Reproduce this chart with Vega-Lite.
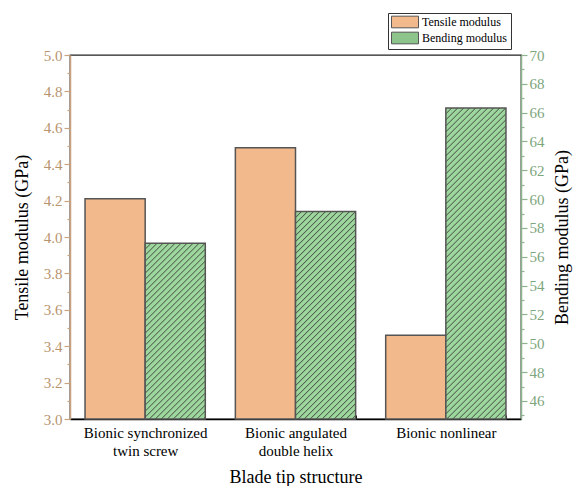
{
  "$schema": "https://vega.github.io/schema/vega-lite/v6.json",
  "autosize": "none",
  "width": 451,
  "height": 364,
  "padding": {"left": 70, "top": 55, "right": 53, "bottom": 67},
  "background": "white",
  "config": {
    "view": {"stroke": "#222222", "strokeWidth": 1.3},
    "font": "Liberation Serif"
  },
  "data": {
    "values": [
      {"structure": "Bionic synchronized twin screw", "series": "Tensile modulus", "value": 4.21},
      {"structure": "Bionic synchronized twin screw", "series": "Bending modulus", "value": 56.95},
      {"structure": "Bionic angulated double helix", "series": "Tensile modulus", "value": 4.49},
      {"structure": "Bionic angulated double helix", "series": "Bending modulus", "value": 59.14},
      {"structure": "Bionic nonlinear", "series": "Tensile modulus", "value": 3.46},
      {"structure": "Bionic nonlinear", "series": "Bending modulus", "value": 66.33}
    ]
  },
  "encoding": {
    "x": {
      "field": "structure",
      "type": "nominal",
      "sort": null,
      "scale": {"paddingInner": 0.2, "paddingOuter": 0.1},
      "axis": {
        "title": "Blade tip structure",
        "titleFont": "Liberation Serif",
        "titleFontSize": 18,
        "titleFontWeight": "normal",
        "titleColor": "#000000",
        "titlePadding": 10,
        "labelAngle": 0,
        "labelFont": "Liberation Serif",
        "labelFontSize": 15,
        "labelColor": "#000000",
        "labelLineHeight": 18,
        "labelPadding": 10,
        "labelExpr": "datum.label == 'Bionic synchronized twin screw' ? ['Bionic synchronized', 'twin screw'] : datum.label == 'Bionic angulated double helix' ? ['Bionic angulated', 'double helix'] : datum.label",
        "domainColor": "#000000",
        "domainWidth": 1.3,
        "tickBand": "extent",
        "tickSize": -4,
        "tickColor": "#000000",
        "grid": false
      }
    },
    "xOffset": {
      "field": "series",
      "type": "nominal",
      "scale": {"domain": ["Tensile modulus", "Bending modulus"], "paddingInner": 0, "paddingOuter": 0}
    },
    "color": {
      "field": "series",
      "type": "nominal",
      "scale": {"domain": ["Tensile modulus", "Bending modulus"], "range": ["#F2BA8C", "#8CC48C"]},
      "legend": {
        "title": null,
        "orient": "none",
        "legendX": 318,
        "legendY": -42,
        "strokeColor": "#333333",
        "fillColor": "white",
        "padding": 3,
        "symbolType": "M-1,-1.06H3.91V1.06H-1Z",
        "symbolSize": 121,
        "symbolStrokeColor": "#555555",
        "symbolStrokeWidth": 1,
        "symbolOpacity": 1,
        "labelFont": "Liberation Serif",
        "labelFontSize": 12,
        "labelColor": "#000000",
        "labelOffset": 19,
        "rowPadding": 0
      }
    }
  },
  "layer": [
    {
      "transform": [{"filter": "datum.series === 'Tensile modulus'"}],
      "mark": {"type": "bar", "stroke": "#555555", "strokeWidth": 1.5, "opacity": 1},
      "encoding": {
        "y": {
          "field": "value",
          "type": "quantitative",
          "scale": {"domain": [3, 5], "zero": false, "nice": false},
          "axis": {
            "orient": "left",
            "title": "Tensile modulus (GPa)",
            "titleFont": "Liberation Serif",
            "titleFontSize": 18,
            "titleFontWeight": "normal",
            "titleColor": "#000000",
            "titlePadding": 12,
            "values": [3.0, 3.1, 3.2, 3.3, 3.4, 3.5, 3.6, 3.7, 3.8, 3.9, 4.0, 4.1, 4.2, 4.3, 4.4, 4.5, 4.6, 4.7, 4.8, 4.9, 5.0],
            "labelExpr": "round(datum.value * 10) % 2 == 0 ? format(datum.value, '.1f') : ''",
            "tickSize": {"condition": {"test": "round(datum.value * 10) % 2 == 1", "value": 3}, "value": 6},
            "labelFont": "Liberation Serif",
            "labelFontSize": 15,
            "labelColor": "#B8946E",
            "labelPadding": 2,
            "domainColor": "#C9A37F",
            "domainWidth": 1.5,
            "tickColor": "#C9A37F",
            "tickWidth": 1.2,
            "grid": false
          }
        },
        "y2": {"datum": 3}
      }
    },
    {
      "transform": [{"filter": "datum.series === 'Bending modulus'"}],
      "mark": {"type": "bar", "stroke": "#555555", "strokeWidth": 1.5, "opacity": 1},
      "encoding": {
        "y": {
          "field": "value",
          "type": "quantitative",
          "scale": {"domain": [44.75, 70], "zero": false, "nice": false},
          "axis": {
            "orient": "right",
            "title": "Bending modulus (GPa)",
            "titleFont": "Liberation Serif",
            "titleFontSize": 18,
            "titleFontWeight": "normal",
            "titleColor": "#000000",
            "titleAngle": 270,
            "titleBaseline": "top",
            "titlePadding": 9,
            "values": [45, 46, 47, 48, 49, 50, 51, 52, 53, 54, 55, 56, 57, 58, 59, 60, 61, 62, 63, 64, 65, 66, 67, 68, 69, 70],
            "labelExpr": "datum.value % 2 == 0 ? format(datum.value, 'd') : ''",
            "tickSize": {"condition": {"test": "datum.value % 2 == 1", "value": 3}, "value": 6},
            "labelFont": "Liberation Serif",
            "labelFontSize": 15,
            "labelColor": "#7DA67D",
            "labelPadding": 2,
            "domainColor": "#8FB38F",
            "domainWidth": 1.5,
            "tickColor": "#8FB38F",
            "tickWidth": 1.2,
            "grid": false
          }
        },
        "y2": {"datum": 44.75},
        "fill": {
          "condition": [
            {
              "test": "datum.structure === 'Bionic synchronized twin screw'",
              "value": {
                "gradient": "linear", "x1": 0, "y1": 0, "x2": 0.6525, "y2": 1.9088,
                "stops": [
                  {"offset":0,"color":"#4e5e4e"},{"offset":0.0032,"color":"#9dd79d"},{"offset":0.0128,"color":"#9dd79d"},
                  {"offset":0.016,"color":"#4e5e4e"},{"offset":0.0192,"color":"#9dd79d"},{"offset":0.0288,"color":"#9dd79d"},
                  {"offset":0.032,"color":"#4e5e4e"},{"offset":0.0352,"color":"#9dd79d"},{"offset":0.0448,"color":"#9dd79d"},
                  {"offset":0.048,"color":"#4e5e4e"},{"offset":0.0512,"color":"#9dd79d"},{"offset":0.0608,"color":"#9dd79d"},
                  {"offset":0.064,"color":"#4e5e4e"},{"offset":0.0672,"color":"#9dd79d"},{"offset":0.0768,"color":"#9dd79d"},
                  {"offset":0.08,"color":"#4e5e4e"},{"offset":0.0832,"color":"#9dd79d"},{"offset":0.0928,"color":"#9dd79d"},
                  {"offset":0.096,"color":"#4e5e4e"},{"offset":0.0992,"color":"#9dd79d"},{"offset":0.1088,"color":"#9dd79d"},
                  {"offset":0.112,"color":"#4e5e4e"},{"offset":0.1152,"color":"#9dd79d"},{"offset":0.1248,"color":"#9dd79d"},
                  {"offset":0.128,"color":"#4e5e4e"},{"offset":0.1312,"color":"#9dd79d"},{"offset":0.1408,"color":"#9dd79d"},
                  {"offset":0.144,"color":"#4e5e4e"},{"offset":0.1472,"color":"#9dd79d"},{"offset":0.1568,"color":"#9dd79d"},
                  {"offset":0.16,"color":"#4e5e4e"},{"offset":0.1632,"color":"#9dd79d"},{"offset":0.1728,"color":"#9dd79d"},
                  {"offset":0.176,"color":"#4e5e4e"},{"offset":0.1792,"color":"#9dd79d"},{"offset":0.1888,"color":"#9dd79d"},
                  {"offset":0.192,"color":"#4e5e4e"},{"offset":0.1952,"color":"#9dd79d"},{"offset":0.2048,"color":"#9dd79d"},
                  {"offset":0.208,"color":"#4e5e4e"},{"offset":0.2112,"color":"#9dd79d"},{"offset":0.2208,"color":"#9dd79d"},
                  {"offset":0.224,"color":"#4e5e4e"},{"offset":0.2272,"color":"#9dd79d"},{"offset":0.2368,"color":"#9dd79d"},
                  {"offset":0.24,"color":"#4e5e4e"},{"offset":0.2432,"color":"#9dd79d"},{"offset":0.2528,"color":"#9dd79d"},
                  {"offset":0.256,"color":"#4e5e4e"},{"offset":0.2592,"color":"#9dd79d"},{"offset":0.2688,"color":"#9dd79d"},
                  {"offset":0.272,"color":"#4e5e4e"},{"offset":0.2752,"color":"#9dd79d"},{"offset":0.2848,"color":"#9dd79d"},
                  {"offset":0.288,"color":"#4e5e4e"},{"offset":0.2912,"color":"#9dd79d"},{"offset":0.3008,"color":"#9dd79d"},
                  {"offset":0.304,"color":"#4e5e4e"},{"offset":0.3072,"color":"#9dd79d"},{"offset":0.3168,"color":"#9dd79d"},
                  {"offset":0.32,"color":"#4e5e4e"},{"offset":0.3232,"color":"#9dd79d"},{"offset":0.3328,"color":"#9dd79d"},
                  {"offset":0.336,"color":"#4e5e4e"},{"offset":0.3392,"color":"#9dd79d"},{"offset":0.3488,"color":"#9dd79d"},
                  {"offset":0.352,"color":"#4e5e4e"},{"offset":0.3552,"color":"#9dd79d"},{"offset":0.3648,"color":"#9dd79d"},
                  {"offset":0.368,"color":"#4e5e4e"},{"offset":0.3712,"color":"#9dd79d"},{"offset":0.3808,"color":"#9dd79d"},
                  {"offset":0.384,"color":"#4e5e4e"},{"offset":0.3872,"color":"#9dd79d"},{"offset":0.3968,"color":"#9dd79d"},
                  {"offset":0.4,"color":"#4e5e4e"},{"offset":0.4032,"color":"#9dd79d"},{"offset":0.4128,"color":"#9dd79d"},
                  {"offset":0.416,"color":"#4e5e4e"},{"offset":0.4192,"color":"#9dd79d"},{"offset":0.4288,"color":"#9dd79d"},
                  {"offset":0.432,"color":"#4e5e4e"},{"offset":0.4352,"color":"#9dd79d"},{"offset":0.4448,"color":"#9dd79d"},
                  {"offset":0.448,"color":"#4e5e4e"},{"offset":0.4512,"color":"#9dd79d"},{"offset":0.4608,"color":"#9dd79d"},
                  {"offset":0.464,"color":"#4e5e4e"},{"offset":0.4672,"color":"#9dd79d"},{"offset":0.4768,"color":"#9dd79d"},
                  {"offset":0.48,"color":"#4e5e4e"},{"offset":0.4832,"color":"#9dd79d"},{"offset":0.4928,"color":"#9dd79d"},
                  {"offset":0.496,"color":"#4e5e4e"},{"offset":0.4992,"color":"#9dd79d"},{"offset":0.5088,"color":"#9dd79d"},
                  {"offset":0.512,"color":"#4e5e4e"},{"offset":0.5152,"color":"#9dd79d"},{"offset":0.5248,"color":"#9dd79d"},
                  {"offset":0.528,"color":"#4e5e4e"},{"offset":0.5312,"color":"#9dd79d"},{"offset":0.5408,"color":"#9dd79d"},
                  {"offset":0.544,"color":"#4e5e4e"},{"offset":0.5472,"color":"#9dd79d"},{"offset":0.5568,"color":"#9dd79d"},
                  {"offset":0.56,"color":"#4e5e4e"},{"offset":0.5632,"color":"#9dd79d"},{"offset":0.5728,"color":"#9dd79d"},
                  {"offset":0.576,"color":"#4e5e4e"},{"offset":0.5792,"color":"#9dd79d"},{"offset":0.5888,"color":"#9dd79d"},
                  {"offset":0.592,"color":"#4e5e4e"},{"offset":0.5952,"color":"#9dd79d"},{"offset":0.6048,"color":"#9dd79d"},
                  {"offset":0.608,"color":"#4e5e4e"},{"offset":0.6112,"color":"#9dd79d"},{"offset":0.6208,"color":"#9dd79d"},
                  {"offset":0.624,"color":"#4e5e4e"},{"offset":0.6272,"color":"#9dd79d"},{"offset":0.6368,"color":"#9dd79d"},
                  {"offset":0.64,"color":"#4e5e4e"}
                ]
              }
            },
            {
              "test": "datum.structure === 'Bionic angulated double helix'",
              "value": {
                "gradient": "linear", "x1": 0, "y1": 0, "x2": 0.4836, "y2": 1.6679,
                "stops": [
                  {"offset":0,"color":"#4e5e4e"},{"offset":0.0032,"color":"#9dd79d"},{"offset":0.0128,"color":"#9dd79d"},
                  {"offset":0.016,"color":"#4e5e4e"},{"offset":0.0192,"color":"#9dd79d"},{"offset":0.0288,"color":"#9dd79d"},
                  {"offset":0.032,"color":"#4e5e4e"},{"offset":0.0352,"color":"#9dd79d"},{"offset":0.0448,"color":"#9dd79d"},
                  {"offset":0.048,"color":"#4e5e4e"},{"offset":0.0512,"color":"#9dd79d"},{"offset":0.0608,"color":"#9dd79d"},
                  {"offset":0.064,"color":"#4e5e4e"},{"offset":0.0672,"color":"#9dd79d"},{"offset":0.0768,"color":"#9dd79d"},
                  {"offset":0.08,"color":"#4e5e4e"},{"offset":0.0832,"color":"#9dd79d"},{"offset":0.0928,"color":"#9dd79d"},
                  {"offset":0.096,"color":"#4e5e4e"},{"offset":0.0992,"color":"#9dd79d"},{"offset":0.1088,"color":"#9dd79d"},
                  {"offset":0.112,"color":"#4e5e4e"},{"offset":0.1152,"color":"#9dd79d"},{"offset":0.1248,"color":"#9dd79d"},
                  {"offset":0.128,"color":"#4e5e4e"},{"offset":0.1312,"color":"#9dd79d"},{"offset":0.1408,"color":"#9dd79d"},
                  {"offset":0.144,"color":"#4e5e4e"},{"offset":0.1472,"color":"#9dd79d"},{"offset":0.1568,"color":"#9dd79d"},
                  {"offset":0.16,"color":"#4e5e4e"},{"offset":0.1632,"color":"#9dd79d"},{"offset":0.1728,"color":"#9dd79d"},
                  {"offset":0.176,"color":"#4e5e4e"},{"offset":0.1792,"color":"#9dd79d"},{"offset":0.1888,"color":"#9dd79d"},
                  {"offset":0.192,"color":"#4e5e4e"},{"offset":0.1952,"color":"#9dd79d"},{"offset":0.2048,"color":"#9dd79d"},
                  {"offset":0.208,"color":"#4e5e4e"},{"offset":0.2112,"color":"#9dd79d"},{"offset":0.2208,"color":"#9dd79d"},
                  {"offset":0.224,"color":"#4e5e4e"},{"offset":0.2272,"color":"#9dd79d"},{"offset":0.2368,"color":"#9dd79d"},
                  {"offset":0.24,"color":"#4e5e4e"},{"offset":0.2432,"color":"#9dd79d"},{"offset":0.2528,"color":"#9dd79d"},
                  {"offset":0.256,"color":"#4e5e4e"},{"offset":0.2592,"color":"#9dd79d"},{"offset":0.2688,"color":"#9dd79d"},
                  {"offset":0.272,"color":"#4e5e4e"},{"offset":0.2752,"color":"#9dd79d"},{"offset":0.2848,"color":"#9dd79d"},
                  {"offset":0.288,"color":"#4e5e4e"},{"offset":0.2912,"color":"#9dd79d"},{"offset":0.3008,"color":"#9dd79d"},
                  {"offset":0.304,"color":"#4e5e4e"},{"offset":0.3072,"color":"#9dd79d"},{"offset":0.3168,"color":"#9dd79d"},
                  {"offset":0.32,"color":"#4e5e4e"},{"offset":0.3232,"color":"#9dd79d"},{"offset":0.3328,"color":"#9dd79d"},
                  {"offset":0.336,"color":"#4e5e4e"},{"offset":0.3392,"color":"#9dd79d"},{"offset":0.3488,"color":"#9dd79d"},
                  {"offset":0.352,"color":"#4e5e4e"},{"offset":0.3552,"color":"#9dd79d"},{"offset":0.3648,"color":"#9dd79d"},
                  {"offset":0.368,"color":"#4e5e4e"},{"offset":0.3712,"color":"#9dd79d"},{"offset":0.3808,"color":"#9dd79d"},
                  {"offset":0.384,"color":"#4e5e4e"},{"offset":0.3872,"color":"#9dd79d"},{"offset":0.3968,"color":"#9dd79d"},
                  {"offset":0.4,"color":"#4e5e4e"},{"offset":0.4032,"color":"#9dd79d"},{"offset":0.4128,"color":"#9dd79d"},
                  {"offset":0.416,"color":"#4e5e4e"},{"offset":0.4192,"color":"#9dd79d"},{"offset":0.4288,"color":"#9dd79d"},
                  {"offset":0.432,"color":"#4e5e4e"},{"offset":0.4352,"color":"#9dd79d"},{"offset":0.4448,"color":"#9dd79d"},
                  {"offset":0.448,"color":"#4e5e4e"},{"offset":0.4512,"color":"#9dd79d"},{"offset":0.4608,"color":"#9dd79d"},
                  {"offset":0.464,"color":"#4e5e4e"},{"offset":0.4672,"color":"#9dd79d"},{"offset":0.4768,"color":"#9dd79d"},
                  {"offset":0.48,"color":"#4e5e4e"},{"offset":0.4832,"color":"#9dd79d"},{"offset":0.4928,"color":"#9dd79d"},
                  {"offset":0.496,"color":"#4e5e4e"},{"offset":0.4992,"color":"#9dd79d"},{"offset":0.5088,"color":"#9dd79d"},
                  {"offset":0.512,"color":"#4e5e4e"},{"offset":0.5152,"color":"#9dd79d"},{"offset":0.5248,"color":"#9dd79d"},
                  {"offset":0.528,"color":"#4e5e4e"},{"offset":0.5312,"color":"#9dd79d"},{"offset":0.5408,"color":"#9dd79d"},
                  {"offset":0.544,"color":"#4e5e4e"},{"offset":0.5472,"color":"#9dd79d"},{"offset":0.5568,"color":"#9dd79d"},
                  {"offset":0.56,"color":"#4e5e4e"},{"offset":0.5632,"color":"#9dd79d"},{"offset":0.5728,"color":"#9dd79d"},
                  {"offset":0.576,"color":"#4e5e4e"},{"offset":0.5792,"color":"#9dd79d"},{"offset":0.5888,"color":"#9dd79d"},
                  {"offset":0.592,"color":"#4e5e4e"},{"offset":0.5952,"color":"#9dd79d"},{"offset":0.6048,"color":"#9dd79d"},
                  {"offset":0.608,"color":"#4e5e4e"},{"offset":0.6112,"color":"#9dd79d"},{"offset":0.6208,"color":"#9dd79d"},
                  {"offset":0.624,"color":"#4e5e4e"},{"offset":0.6272,"color":"#9dd79d"},{"offset":0.6368,"color":"#9dd79d"},
                  {"offset":0.64,"color":"#4e5e4e"},{"offset":0.6432,"color":"#9dd79d"},{"offset":0.6528,"color":"#9dd79d"},
                  {"offset":0.656,"color":"#4e5e4e"},{"offset":0.6592,"color":"#9dd79d"},{"offset":0.6688,"color":"#9dd79d"},
                  {"offset":0.672,"color":"#4e5e4e"},{"offset":0.6752,"color":"#9dd79d"},{"offset":0.6848,"color":"#9dd79d"},
                  {"offset":0.688,"color":"#4e5e4e"},{"offset":0.6912,"color":"#9dd79d"},{"offset":0.7008,"color":"#9dd79d"},
                  {"offset":0.704,"color":"#4e5e4e"},{"offset":0.7072,"color":"#9dd79d"},{"offset":0.7168,"color":"#9dd79d"},
                  {"offset":0.72,"color":"#4e5e4e"}
                ]
              }
            }
          ],
          "value": {
            "gradient": "linear", "x1": 0, "y1": 0, "x2": 0.2246, "y2": 1.162,
            "stops": [
              {"offset":0,"color":"#4e5e4e"},{"offset":0.0032,"color":"#9dd79d"},{"offset":0.0128,"color":"#9dd79d"},
              {"offset":0.016,"color":"#4e5e4e"},{"offset":0.0192,"color":"#9dd79d"},{"offset":0.0288,"color":"#9dd79d"},
              {"offset":0.032,"color":"#4e5e4e"},{"offset":0.0352,"color":"#9dd79d"},{"offset":0.0448,"color":"#9dd79d"},
              {"offset":0.048,"color":"#4e5e4e"},{"offset":0.0512,"color":"#9dd79d"},{"offset":0.0608,"color":"#9dd79d"},
              {"offset":0.064,"color":"#4e5e4e"},{"offset":0.0672,"color":"#9dd79d"},{"offset":0.0768,"color":"#9dd79d"},
              {"offset":0.08,"color":"#4e5e4e"},{"offset":0.0832,"color":"#9dd79d"},{"offset":0.0928,"color":"#9dd79d"},
              {"offset":0.096,"color":"#4e5e4e"},{"offset":0.0992,"color":"#9dd79d"},{"offset":0.1088,"color":"#9dd79d"},
              {"offset":0.112,"color":"#4e5e4e"},{"offset":0.1152,"color":"#9dd79d"},{"offset":0.1248,"color":"#9dd79d"},
              {"offset":0.128,"color":"#4e5e4e"},{"offset":0.1312,"color":"#9dd79d"},{"offset":0.1408,"color":"#9dd79d"},
              {"offset":0.144,"color":"#4e5e4e"},{"offset":0.1472,"color":"#9dd79d"},{"offset":0.1568,"color":"#9dd79d"},
              {"offset":0.16,"color":"#4e5e4e"},{"offset":0.1632,"color":"#9dd79d"},{"offset":0.1728,"color":"#9dd79d"},
              {"offset":0.176,"color":"#4e5e4e"},{"offset":0.1792,"color":"#9dd79d"},{"offset":0.1888,"color":"#9dd79d"},
              {"offset":0.192,"color":"#4e5e4e"},{"offset":0.1952,"color":"#9dd79d"},{"offset":0.2048,"color":"#9dd79d"},
              {"offset":0.208,"color":"#4e5e4e"},{"offset":0.2112,"color":"#9dd79d"},{"offset":0.2208,"color":"#9dd79d"},
              {"offset":0.224,"color":"#4e5e4e"},{"offset":0.2272,"color":"#9dd79d"},{"offset":0.2368,"color":"#9dd79d"},
              {"offset":0.24,"color":"#4e5e4e"},{"offset":0.2432,"color":"#9dd79d"},{"offset":0.2528,"color":"#9dd79d"},
              {"offset":0.256,"color":"#4e5e4e"},{"offset":0.2592,"color":"#9dd79d"},{"offset":0.2688,"color":"#9dd79d"},
              {"offset":0.272,"color":"#4e5e4e"},{"offset":0.2752,"color":"#9dd79d"},{"offset":0.2848,"color":"#9dd79d"},
              {"offset":0.288,"color":"#4e5e4e"},{"offset":0.2912,"color":"#9dd79d"},{"offset":0.3008,"color":"#9dd79d"},
              {"offset":0.304,"color":"#4e5e4e"},{"offset":0.3072,"color":"#9dd79d"},{"offset":0.3168,"color":"#9dd79d"},
              {"offset":0.32,"color":"#4e5e4e"},{"offset":0.3232,"color":"#9dd79d"},{"offset":0.3328,"color":"#9dd79d"},
              {"offset":0.336,"color":"#4e5e4e"},{"offset":0.3392,"color":"#9dd79d"},{"offset":0.3488,"color":"#9dd79d"},
              {"offset":0.352,"color":"#4e5e4e"},{"offset":0.3552,"color":"#9dd79d"},{"offset":0.3648,"color":"#9dd79d"},
              {"offset":0.368,"color":"#4e5e4e"},{"offset":0.3712,"color":"#9dd79d"},{"offset":0.3808,"color":"#9dd79d"},
              {"offset":0.384,"color":"#4e5e4e"},{"offset":0.3872,"color":"#9dd79d"},{"offset":0.3968,"color":"#9dd79d"},
              {"offset":0.4,"color":"#4e5e4e"},{"offset":0.4032,"color":"#9dd79d"},{"offset":0.4128,"color":"#9dd79d"},
              {"offset":0.416,"color":"#4e5e4e"},{"offset":0.4192,"color":"#9dd79d"},{"offset":0.4288,"color":"#9dd79d"},
              {"offset":0.432,"color":"#4e5e4e"},{"offset":0.4352,"color":"#9dd79d"},{"offset":0.4448,"color":"#9dd79d"},
              {"offset":0.448,"color":"#4e5e4e"},{"offset":0.4512,"color":"#9dd79d"},{"offset":0.4608,"color":"#9dd79d"},
              {"offset":0.464,"color":"#4e5e4e"},{"offset":0.4672,"color":"#9dd79d"},{"offset":0.4768,"color":"#9dd79d"},
              {"offset":0.48,"color":"#4e5e4e"},{"offset":0.4832,"color":"#9dd79d"},{"offset":0.4928,"color":"#9dd79d"},
              {"offset":0.496,"color":"#4e5e4e"},{"offset":0.4992,"color":"#9dd79d"},{"offset":0.5088,"color":"#9dd79d"},
              {"offset":0.512,"color":"#4e5e4e"},{"offset":0.5152,"color":"#9dd79d"},{"offset":0.5248,"color":"#9dd79d"},
              {"offset":0.528,"color":"#4e5e4e"},{"offset":0.5312,"color":"#9dd79d"},{"offset":0.5408,"color":"#9dd79d"},
              {"offset":0.544,"color":"#4e5e4e"},{"offset":0.5472,"color":"#9dd79d"},{"offset":0.5568,"color":"#9dd79d"},
              {"offset":0.56,"color":"#4e5e4e"},{"offset":0.5632,"color":"#9dd79d"},{"offset":0.5728,"color":"#9dd79d"},
              {"offset":0.576,"color":"#4e5e4e"},{"offset":0.5792,"color":"#9dd79d"},{"offset":0.5888,"color":"#9dd79d"},
              {"offset":0.592,"color":"#4e5e4e"},{"offset":0.5952,"color":"#9dd79d"},{"offset":0.6048,"color":"#9dd79d"},
              {"offset":0.608,"color":"#4e5e4e"},{"offset":0.6112,"color":"#9dd79d"},{"offset":0.6208,"color":"#9dd79d"},
              {"offset":0.624,"color":"#4e5e4e"},{"offset":0.6272,"color":"#9dd79d"},{"offset":0.6368,"color":"#9dd79d"},
              {"offset":0.64,"color":"#4e5e4e"},{"offset":0.6432,"color":"#9dd79d"},{"offset":0.6528,"color":"#9dd79d"},
              {"offset":0.656,"color":"#4e5e4e"},{"offset":0.6592,"color":"#9dd79d"},{"offset":0.6688,"color":"#9dd79d"},
              {"offset":0.672,"color":"#4e5e4e"},{"offset":0.6752,"color":"#9dd79d"},{"offset":0.6848,"color":"#9dd79d"},
              {"offset":0.688,"color":"#4e5e4e"},{"offset":0.6912,"color":"#9dd79d"},{"offset":0.7008,"color":"#9dd79d"},
              {"offset":0.704,"color":"#4e5e4e"},{"offset":0.7072,"color":"#9dd79d"},{"offset":0.7168,"color":"#9dd79d"},
              {"offset":0.72,"color":"#4e5e4e"},{"offset":0.7232,"color":"#9dd79d"},{"offset":0.7328,"color":"#9dd79d"},
              {"offset":0.736,"color":"#4e5e4e"},{"offset":0.7392,"color":"#9dd79d"},{"offset":0.7488,"color":"#9dd79d"},
              {"offset":0.752,"color":"#4e5e4e"},{"offset":0.7552,"color":"#9dd79d"},{"offset":0.7648,"color":"#9dd79d"},
              {"offset":0.768,"color":"#4e5e4e"},{"offset":0.7712,"color":"#9dd79d"},{"offset":0.7808,"color":"#9dd79d"},
              {"offset":0.784,"color":"#4e5e4e"},{"offset":0.7872,"color":"#9dd79d"},{"offset":0.7968,"color":"#9dd79d"},
              {"offset":0.8,"color":"#4e5e4e"},{"offset":0.8032,"color":"#9dd79d"},{"offset":0.8128,"color":"#9dd79d"},
              {"offset":0.816,"color":"#4e5e4e"},{"offset":0.8192,"color":"#9dd79d"},{"offset":0.8288,"color":"#9dd79d"},
              {"offset":0.832,"color":"#4e5e4e"},{"offset":0.8352,"color":"#9dd79d"},{"offset":0.8448,"color":"#9dd79d"},
              {"offset":0.848,"color":"#4e5e4e"},{"offset":0.8512,"color":"#9dd79d"},{"offset":0.8608,"color":"#9dd79d"},
              {"offset":0.864,"color":"#4e5e4e"},{"offset":0.8672,"color":"#9dd79d"},{"offset":0.8768,"color":"#9dd79d"},
              {"offset":0.88,"color":"#4e5e4e"},{"offset":0.8832,"color":"#9dd79d"},{"offset":0.8928,"color":"#9dd79d"},
              {"offset":0.896,"color":"#4e5e4e"},{"offset":0.8992,"color":"#9dd79d"},{"offset":0.9088,"color":"#9dd79d"},
              {"offset":0.912,"color":"#4e5e4e"},{"offset":0.9152,"color":"#9dd79d"},{"offset":0.9248,"color":"#9dd79d"},
              {"offset":0.928,"color":"#4e5e4e"},{"offset":0.9312,"color":"#9dd79d"},{"offset":0.9408,"color":"#9dd79d"},
              {"offset":0.944,"color":"#4e5e4e"},{"offset":0.9472,"color":"#9dd79d"},{"offset":0.9568,"color":"#9dd79d"},
              {"offset":0.96,"color":"#4e5e4e"},{"offset":0.9632,"color":"#9dd79d"},{"offset":0.9728,"color":"#9dd79d"},
              {"offset":0.976,"color":"#4e5e4e"},{"offset":0.9792,"color":"#9dd79d"},{"offset":0.9888,"color":"#9dd79d"},
              {"offset":0.992,"color":"#4e5e4e"},{"offset":0.9952,"color":"#9dd79d"},{"offset":1,"color":"#9dd79d"}
            ]
          }
        }
      }
    }
  ],
  "resolve": {"scale": {"y": "independent"}, "axis": {"y": "independent"}}
}
